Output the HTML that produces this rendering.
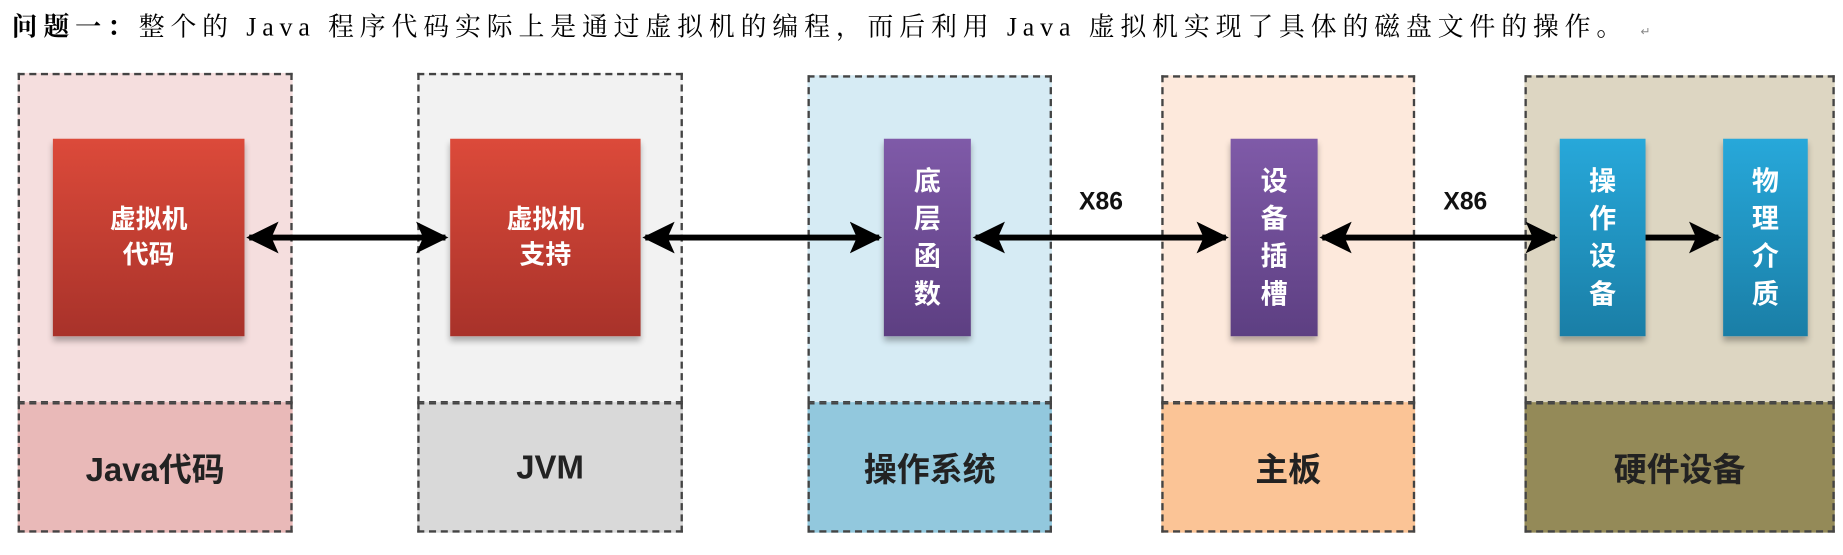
<!DOCTYPE html>
<html><head><meta charset="utf-8"><style>
html,body{margin:0;padding:0;background:#fff;width:1843px;height:555px;overflow:hidden}
#w{position:absolute;left:0;top:0;width:1568px;height:472px;transform:scale(1.17538,1.17585);transform-origin:0 0}
.t{position:absolute;left:10px;top:6px;font:22px "Liberation Serif","Noto Serif CJK SC",serif;letter-spacing:5px;color:#000;white-space:nowrap}
.col{position:absolute;border:2px dashed #444;box-sizing:border-box}
.lab{position:absolute;box-sizing:border-box;border:2px dashed #444;display:flex;align-items:center;justify-content:center;font:bold 28px "Liberation Sans","Noto Sans CJK SC",sans-serif;color:#222}
.b{position:absolute;color:#fff;font:bold 22px "Liberation Sans","Noto Sans CJK SC",sans-serif;display:flex;align-items:center;justify-content:center;text-align:center;box-shadow:0 4px 5px rgba(0,0,0,.3)}
.red{background:linear-gradient(#dc4a3a,#a8322a);line-height:30px}
.pur{background:linear-gradient(#7f5aa8,#5d3f82);line-height:32px;font-size:23px}
.blu{background:linear-gradient(#27a8da,#1a7ea6);line-height:32px;font-size:23px}
.x{position:absolute;font:bold 21px "Liberation Sans",sans-serif;color:#111}
</style></head><body><div id="w">
<div class="t"><b>问题一：</b>整个的 Java 程序代码实际上是通过虚拟机的编程，而后利用 Java 虚拟机实现了具体的磁盘文件的操作。 <span style="font-size:10px;color:#888">↵</span></div>

<div class="col" style="left:15px;top:62px;width:234px;height:281px;background:#f5dede"></div>
<div class="lab" style="left:15px;top:342px;width:234px;height:111px;background:#e9b9b8">Java代码</div>
<div class="col" style="left:355px;top:62px;width:226px;height:281px;background:#f2f2f2"></div>
<div class="lab" style="left:355px;top:342px;width:226px;height:111px;background:#d9d9d9">JVM</div>
<div class="col" style="left:687px;top:64px;width:208px;height:279px;background:#d6ebf4"></div>
<div class="lab" style="left:687px;top:342px;width:208px;height:111px;background:#92c8dd">操作系统</div>
<div class="col" style="left:988px;top:64px;width:216px;height:279px;background:#fde9dc"></div>
<div class="lab" style="left:988px;top:342px;width:216px;height:111px;background:#fbc496">主板</div>
<div class="col" style="left:1297px;top:64px;width:264px;height:279px;background:#ddd6c2"></div>
<div class="lab" style="left:1297px;top:342px;width:264px;height:111px;background:#948a58">硬件设备</div>

<svg style="position:absolute;left:0;top:0" width="1568" height="472">
<defs><marker id="a" markerWidth="6" markerHeight="6" refX="5" refY="3" orient="auto-start-reverse" markerUnits="strokeWidth"><path d="M0,0.3 L5.5,3 L0,5.7 L1.2,3z" fill="#000"/></marker></defs>
<g stroke="#000" stroke-width="5" marker-start="url(#a)" marker-end="url(#a)">
<line x1="212" y1="202" x2="379" y2="202"/>
<line x1="549" y1="202" x2="748" y2="202"/>
<line x1="830" y1="202" x2="1043" y2="202"/>
<line x1="1125" y1="202" x2="1323" y2="202"/>
</g>
<line x1="1400" y1="202" x2="1462" y2="202" stroke="#000" stroke-width="5" marker-end="url(#a)"/>
</svg>

<div class="b red" style="left:45px;top:118px;width:163px;height:168px">虚拟机<br>代码</div>
<div class="b red" style="left:383px;top:118px;width:162px;height:168px">虚拟机<br>支持</div>
<div class="b pur" style="left:752px;top:118px;width:74px;height:168px">底<br>层<br>函<br>数</div>
<div class="b pur" style="left:1047px;top:118px;width:74px;height:168px">设<br>备<br>插<br>槽</div>
<div class="b blu" style="left:1327px;top:118px;width:73px;height:168px">操<br>作<br>设<br>备</div>
<div class="b blu" style="left:1466px;top:118px;width:72px;height:168px">物<br>理<br>介<br>质</div>
<div class="x" style="left:918px;top:160px">X86</div>
<div class="x" style="left:1228px;top:160px">X86</div>
</div></body></html>
